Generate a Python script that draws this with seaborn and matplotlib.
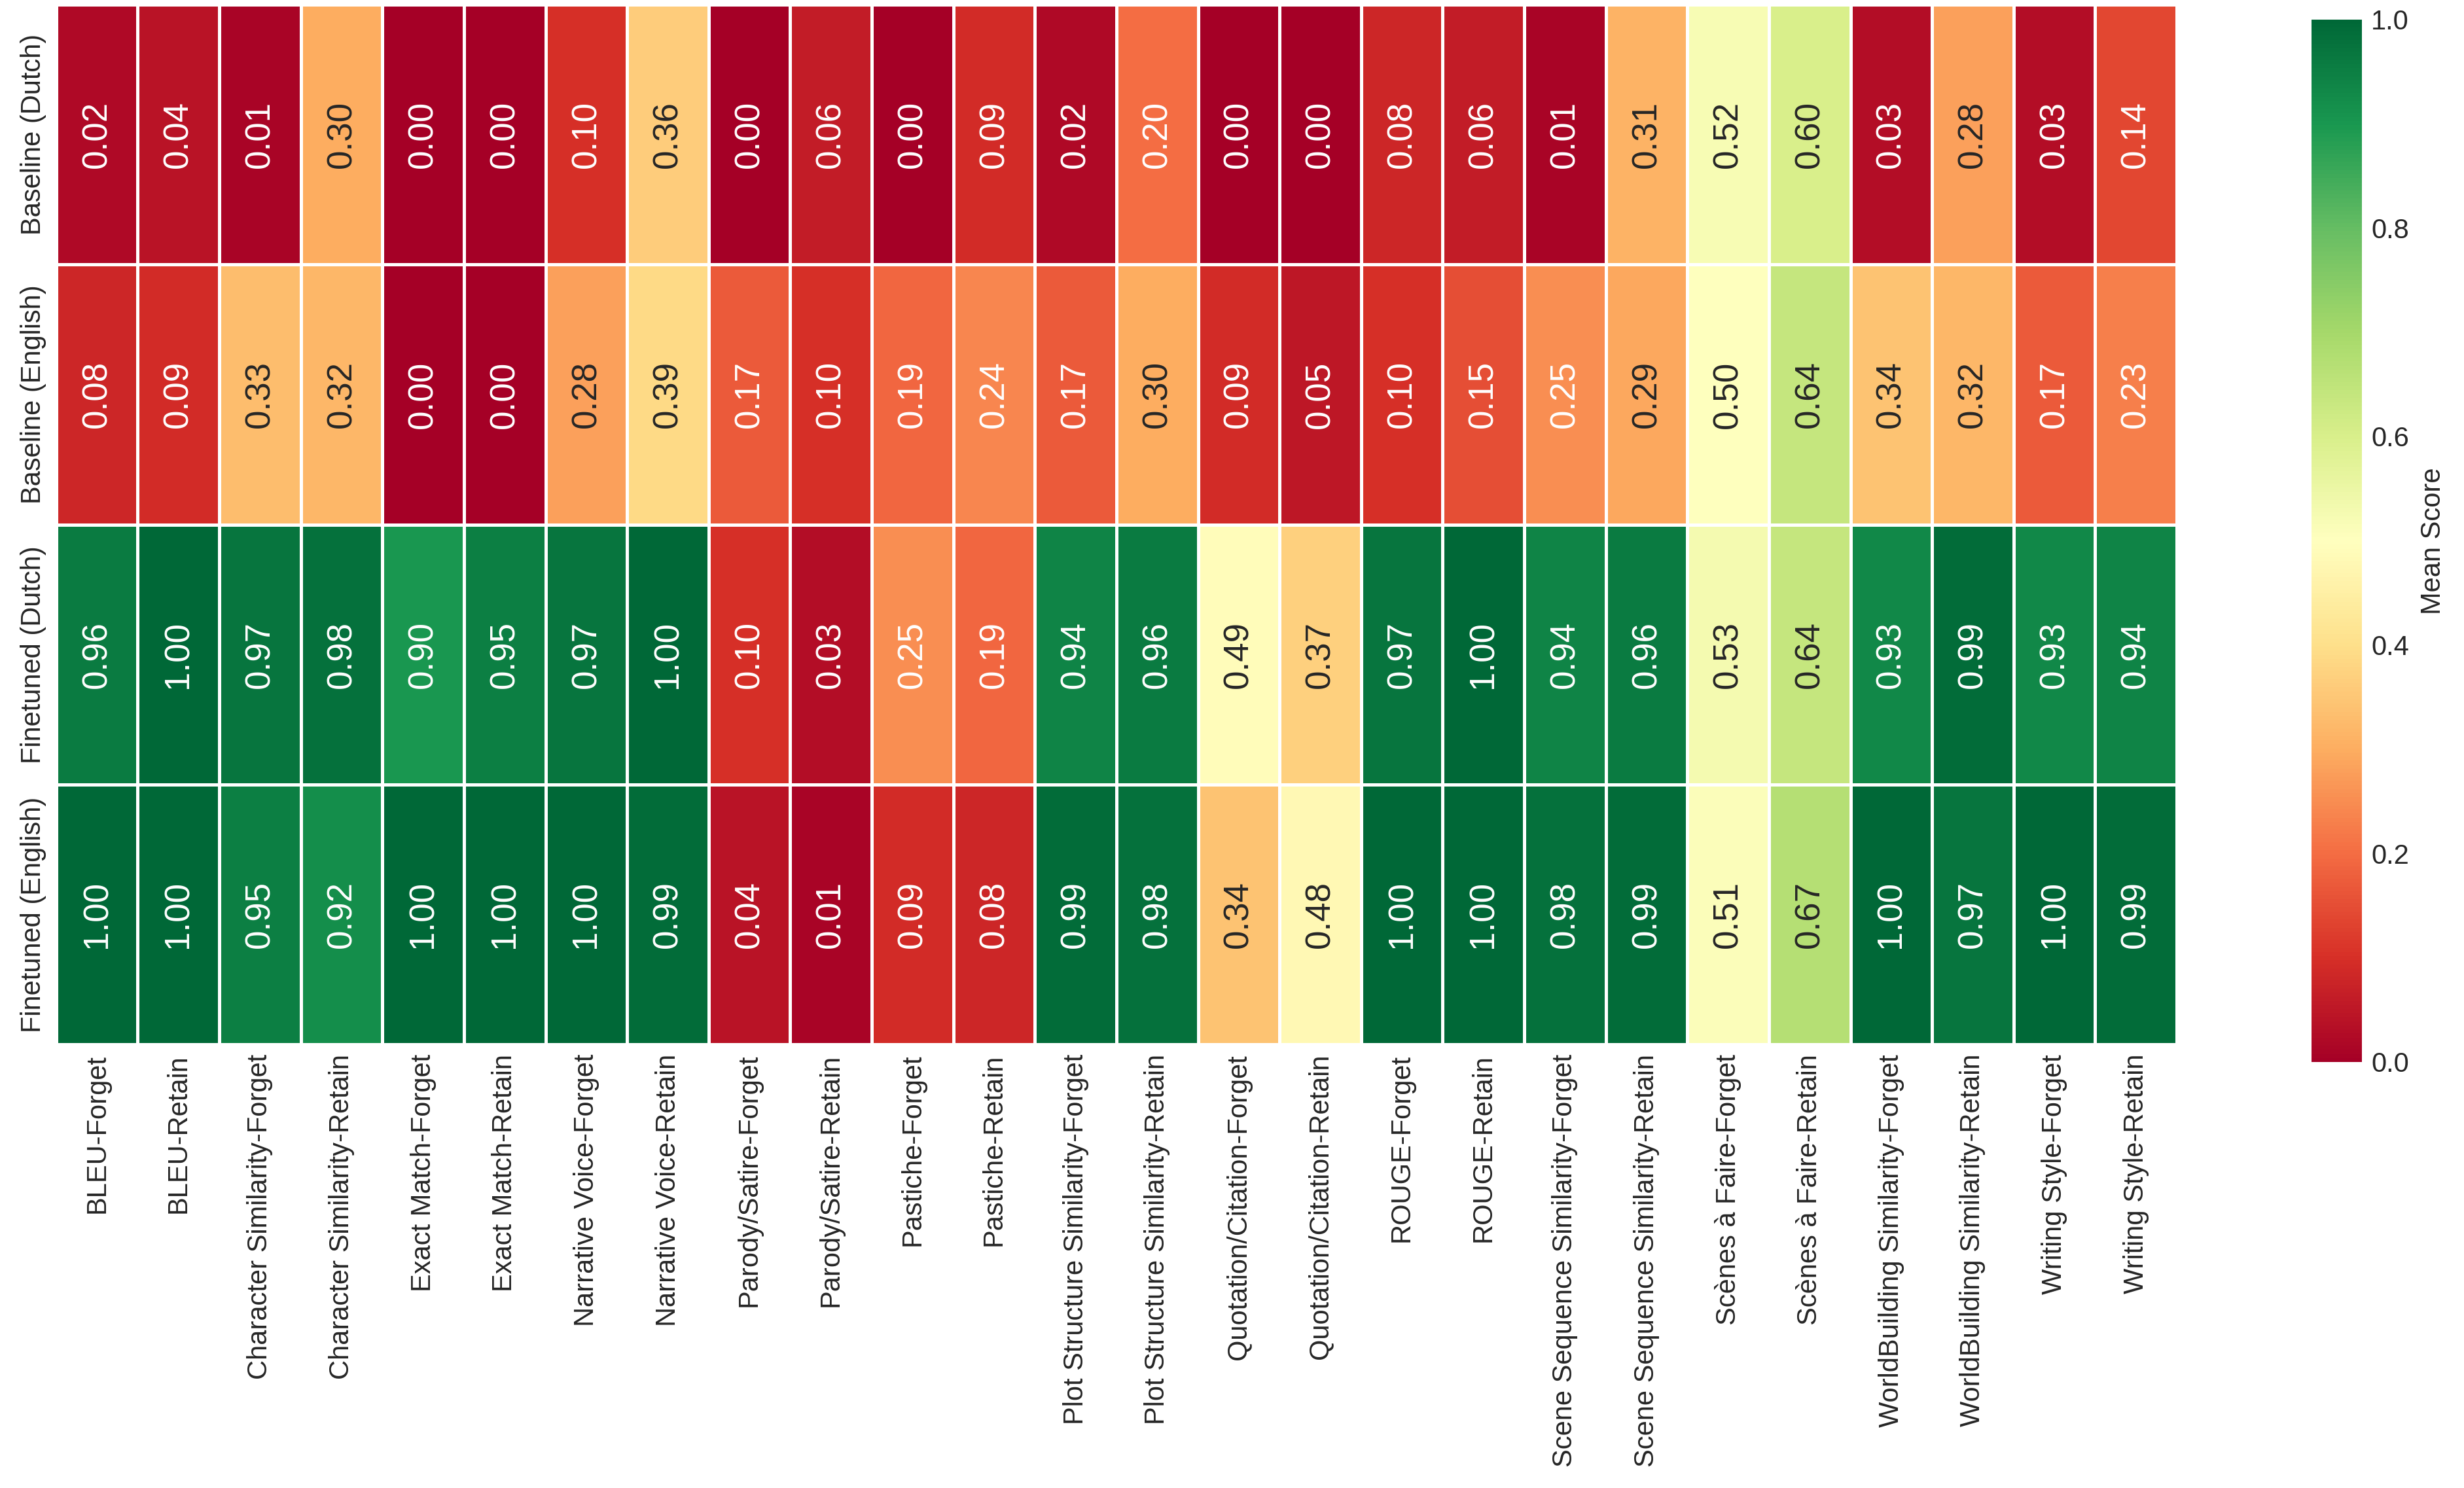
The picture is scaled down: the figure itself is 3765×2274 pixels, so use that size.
import numpy as np
import pandas as pd
import matplotlib
matplotlib.use("Agg")
import matplotlib.pyplot as plt
import seaborn as sns

models = ["Baseline (Dutch)", "Baseline (English)", "Finetuned (Dutch)", "Finetuned (English)"]

metrics = [
    "BLEU-Forget", "BLEU-Retain",
    "Character Similarity-Forget", "Character Similarity-Retain",
    "Exact Match-Forget", "Exact Match-Retain",
    "Narrative Voice-Forget", "Narrative Voice-Retain",
    "Parody/Satire-Forget", "Parody/Satire-Retain",
    "Pastiche-Forget", "Pastiche-Retain",
    "Plot Structure Similarity-Forget", "Plot Structure Similarity-Retain",
    "Quotation/Citation-Forget", "Quotation/Citation-Retain",
    "ROUGE-Forget", "ROUGE-Retain",
    "Scene Sequence Similarity-Forget", "Scene Sequence Similarity-Retain",
    "Scènes à Faire-Forget", "Scènes à Faire-Retain",
    "WorldBuilding Similarity-Forget", "WorldBuilding Similarity-Retain",
    "Writing Style-Forget", "Writing Style-Retain",
]

baseline_dutch = [0.02, 0.04, 0.01, 0.30, 0.00, 0.00, 0.10, 0.36, 0.00, 0.06, 0.00, 0.09, 0.02,
                  0.20, 0.00, 0.00, 0.08, 0.06, 0.01, 0.31, 0.52, 0.60, 0.03, 0.28, 0.03, 0.14]
baseline_english = [0.08, 0.09, 0.33, 0.32, 0.00, 0.00, 0.28, 0.39, 0.17, 0.10, 0.19, 0.24, 0.17,
                    0.30, 0.09, 0.05, 0.10, 0.15, 0.25, 0.29, 0.50, 0.64, 0.34, 0.32, 0.17, 0.23]
finetuned_dutch = [0.96, 1.00, 0.97, 0.98, 0.90, 0.95, 0.97, 1.00, 0.10, 0.03, 0.25, 0.19, 0.94,
                   0.96, 0.49, 0.37, 0.97, 1.00, 0.94, 0.96, 0.53, 0.64, 0.93, 0.99, 0.93, 0.94]
finetuned_english = [1.00, 1.00, 0.95, 0.92, 1.00, 1.00, 1.00, 0.99, 0.04, 0.01, 0.09, 0.08, 0.99,
                     0.98, 0.34, 0.48, 1.00, 1.00, 0.98, 0.99, 0.51, 0.67, 1.00, 0.97, 1.00, 0.99]

scores = pd.DataFrame(
    [baseline_dutch, baseline_english, finetuned_dutch, finetuned_english],
    index=models, columns=metrics,
)

sns.set_theme(style="white")
plt.rcParams["font.family"] = ["Liberation Sans", "DejaVu Sans"]

fig = plt.figure(figsize=(12.55, 7.58), dpi=300)
ax = fig.add_axes([0.0228, 0.298, 0.8606, 0.699])
cax = fig.add_axes([0.938, 0.2863, 0.0205, 0.7007])

sns.heatmap(
    scores,
    ax=ax,
    cbar_ax=cax,
    cmap="RdYlGn",
    vmin=0,
    vmax=1,
    annot=True,
    fmt=".2f",
    annot_kws={"rotation": 90, "size": 12.7},
    linewidths=0.8,
    linecolor="white",
    cbar_kws={"label": "Mean Score"},
)

ax.tick_params(axis="x", rotation=90, labelsize=10, length=0)
ax.tick_params(axis="y", rotation=90, labelsize=10, length=0)
for lbl in ax.get_yticklabels():
    lbl.set_va("center")
ax.set_xlabel("")
ax.set_ylabel("")

cax.tick_params(labelsize=10, length=0)
cax.yaxis.label.set_size(10)
cax.set_yticks([0, 0.2, 0.4, 0.6, 0.8, 1.0])
cax.set_yticklabels(["0.0", "0.2", "0.4", "0.6", "0.8", "1.0"])
for spine in cax.spines.values():
    spine.set_visible(False)

fig.savefig("out.png", dpi=300)
